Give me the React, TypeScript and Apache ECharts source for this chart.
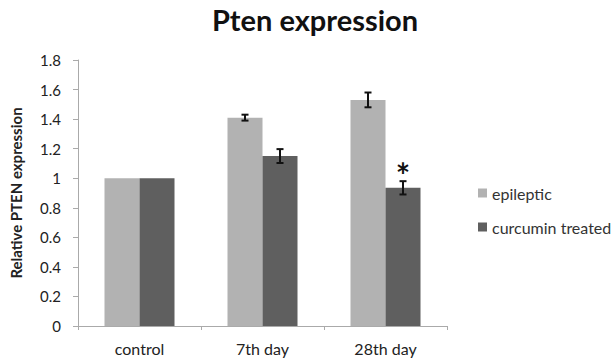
import React, { useEffect, useRef } from "react";
import * as echarts from "echarts";

const categories = ["control", "7th day", "28th day"];
const epileptic = [1.0, 1.41, 1.53];
const epilepticErr = [0, 0.02, 0.05];
const curcumin = [1.0, 1.15, 0.935];
const curcuminErr = [0, 0.047, 0.045];
const yTicks = [0, 0.2, 0.4, 0.6, 0.8, 1, 1.2, 1.4, 1.6, 1.8];
const significant = [false, false, true];

const FONT = "Lato, 'Open Sans', sans-serif";

export default function App() {
  const ref = useRef<HTMLDivElement>(null);
  useEffect(() => {
    if (!ref.current) return;
    const chart = echarts.init(ref.current, null, { renderer: "svg" });
    const errData = (vals: number[], errs: number[], s: number) =>
      vals.map((v, i) => [i, v, errs[i], s]);
    const renderErr = (params: any, api: any) => {
      const i = api.value(0);
      const v = api.value(1);
      const e = api.value(2);
      const s = api.value(3);
      if (!e) return null;
      const off = s === 0 ? -17.5 : 17.5;
      const top = api.coord([i, v + e]);
      const bot = api.coord([i, v - e]);
      const x = top[0] + off;
      const st = { stroke: "#111", lineWidth: 2 };
      return {
        type: "group",
        children: [
          { type: "line", shape: { x1: x, y1: top[1], x2: x, y2: bot[1] }, style: st },
          { type: "line", shape: { x1: x - 3.5, y1: top[1], x2: x + 3.5, y2: top[1] }, style: st },
          { type: "line", shape: { x1: x - 3.5, y1: bot[1], x2: x + 3.5, y2: bot[1] }, style: st },
        ],
      };
    };
    chart.setOption({
      animation: false,
      backgroundColor: "#fff",
      title: {
        text: "Pten expression",
        left: 310,
        textAlign: "center",
        top: 0,
        textStyle: { fontFamily: FONT, fontSize: 29, fontWeight: "bold", color: "#111" },
      },
      legend: {
        orient: "vertical",
        left: 473,
        top: 180,
        itemWidth: 9,
        itemHeight: 9,
        itemGap: 18,
        itemTextGap: 5,
        icon: "rect",
        textStyle: { fontFamily: FONT, fontSize: 16, color: "#333" },
        data: ["epileptic", "curcumin treated"],
      },
      grid: { left: 76, right: 167, top: 60, bottom: 36 },
      xAxis: {
        type: "category",
        data: categories,
        axisLine: { lineStyle: { color: "#aaa" } },
        axisTick: { show: true, length: 4, lineStyle: { color: "#aaa" } },
        axisLabel: { fontFamily: FONT, fontSize: 16, color: "#222", margin: 14 },
      },
      yAxis: {
        type: "value",
        min: 0,
        max: 1.8,
        interval: 0.2,
        name: "Relative PTEN expression",
        nameLocation: "middle",
        nameGap: 55,
        nameRotate: 90,
        nameTextStyle: { fontFamily: FONT, fontSize: 15, fontWeight: "bold", color: "#222" },
        axisLine: { show: true, lineStyle: { color: "#aaa" } },
        axisTick: { show: true, length: 5, lineStyle: { color: "#aaa" } },
        splitLine: { show: false },
        axisLabel: {
          fontFamily: FONT,
          fontSize: 15,
          color: "#222",
          margin: 17,
          formatter: (v: number) => {
            const t = yTicks.find((x) => Math.abs(x - v) < 1e-6);
            return t === undefined ? "" : String(t);
          },
        },
      },
      series: [
        {
          name: "epileptic",
          type: "bar",
          data: epileptic,
          barWidth: 35,
          barGap: "0%",
          itemStyle: { color: "#b2b2b2" },
        },
        {
          name: "curcumin treated",
          type: "bar",
          data: curcumin.map((v, i) =>
            significant[i]
              ? {
                  value: v,
                  label: {
                    show: true,
                    position: "top",
                    distance: -4,
                    formatter: "*",
                    fontFamily: FONT,
                    fontSize: 34,
                    fontWeight: "bold",
                    color: "#111",
                  },
                }
              : v
          ),
          barWidth: 35,
          barGap: "0%",
          itemStyle: { color: "#5f5f5f" },
        },
        {
          type: "custom",
          renderItem: renderErr,
          data: errData(epileptic, epilepticErr, 0),
          z: 5,
        },
        {
          type: "custom",
          renderItem: renderErr,
          data: errData(curcumin, curcuminErr, 1),
          z: 5,
        },
      ],
    });
    return () => chart.dispose();
  }, []);
  return (
    <div
      ref={ref}
      style={{ position: "absolute", left: 0, top: 0, width: 614, height: 362 }}
    />
  );
}
